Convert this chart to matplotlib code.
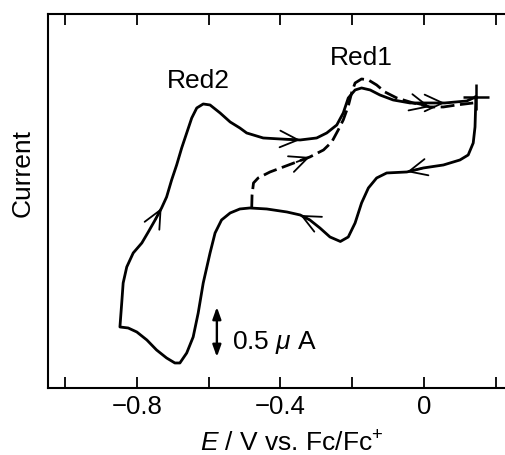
import matplotlib
matplotlib.use('Agg')
import matplotlib.pyplot as plt

plt.rcParams['font.family'] = ['Liberation Sans', 'DejaVu Sans']
plt.rcParams['mathtext.fontset'] = 'custom'
plt.rcParams['mathtext.rm'] = 'Liberation Sans'
plt.rcParams['mathtext.it'] = 'Liberation Sans:italic'

# full scan (solid), potential in V vs Fc/Fc+, current in uA (arbitrary offset)
solid_E = [0.144, 0.144, 0.142, 0.137, 0.123, 0.100, 0.054, -0.002, -0.048, -0.104,
           -0.132, -0.155, -0.174, -0.192, -0.211, -0.233, -0.262, -0.290, -0.318, -0.345,
           -0.382, -0.438, -0.485, -0.513, -0.540, -0.564, -0.582, -0.596, -0.615, -0.629,
           -0.643, -0.661, -0.680, -0.694, -0.717, -0.745, -0.772, -0.800, -0.824, -0.847,
           -0.842, -0.838, -0.828, -0.810, -0.786, -0.768, -0.749, -0.731, -0.717, -0.703,
           -0.689, -0.675, -0.661, -0.647, -0.633, -0.615, -0.596, -0.568, -0.540, -0.513,
           -0.494, -0.448, -0.401, -0.345, -0.299, -0.271, -0.243, -0.225, -0.211, -0.192,
           -0.174, -0.150, -0.123, -0.086, -0.039, 0.017, 0.058, 0.119, 0.144]
solid_I = [2.03, 1.97, 1.73, 1.57, 1.45, 1.40, 1.35, 1.32, 1.28, 1.27,
           1.22, 1.12, 0.97, 0.77, 0.63, 0.585, 0.63, 0.72, 0.80, 0.85,
           0.88, 0.91, 0.92, 0.91, 0.87, 0.80, 0.67, 0.47, 0.17, -0.13,
           -0.37, -0.53, -0.63, -0.63, -0.58, -0.50, -0.40, -0.32, -0.28, -0.27,
           -0.03, 0.17, 0.33, 0.47, 0.57, 0.68, 0.80, 0.92, 1.03, 1.20,
           1.35, 1.52, 1.67, 1.82, 1.92, 1.96, 1.95, 1.87, 1.78, 1.72,
           1.67, 1.62, 1.61, 1.60, 1.62, 1.67, 1.75, 1.87, 2.02, 2.10,
           2.12, 2.10, 2.05, 2.00, 1.97, 1.97, 1.97, 1.99, 2.03]

# scan reversed before Red2 (dashed)
dashed_E = [-0.480, -0.479, -0.475, -0.462, -0.429, -0.392, -0.355, -0.318, -0.280, -0.257,
            -0.239, -0.225, -0.211, -0.201, -0.192, -0.174, -0.155, -0.132, -0.109, -0.076,
            -0.030, 0.017, 0.054, 0.091, 0.137]
dashed_I = [0.915, 1.05, 1.17, 1.22, 1.28, 1.33, 1.38, 1.43, 1.50, 1.58,
            1.70, 1.80, 1.94, 2.08, 2.17, 2.21, 2.20, 2.15, 2.08, 2.02,
            1.97, 1.93, 1.93, 1.95, 1.97]

solid_arrows = [8, 19, 47, 63, 76]
dashed_arrows = [7, 21]

scale_E = -0.577
scale_low = -0.57
scale_len = 0.5

fig = plt.figure(figsize=(5.05, 4.55), dpi=100)
ax = fig.add_axes([0.096, 0.1473, 0.9143, 0.822])

ax.plot(solid_E, solid_I, color='black', lw=2.0, solid_joinstyle='round')
ax.plot(dashed_E, dashed_I, color='black', lw=2.0, linestyle=(0, (5, 2)))
ax.plot(solid_E[0], solid_I[0], marker='+', color='black', ms=19, mew=1.8)


def chevron(E, I, i):
    ax.annotate('', xy=(E[i], I[i]), xytext=(E[i - 1], I[i - 1]),
                arrowprops=dict(arrowstyle='->,head_length=1.3,head_width=0.6',
                                color='black', lw=1.3, shrinkA=0, shrinkB=0,
                                mutation_scale=10))


for i in solid_arrows:
    chevron(solid_E, solid_I, i)
for i in dashed_arrows:
    chevron(dashed_E, dashed_I, i)

# scale bar
ax.annotate('', xy=(scale_E, scale_low), xytext=(scale_E, scale_low + scale_len),
            arrowprops=dict(arrowstyle='<|-|>,head_length=0.7,head_width=0.25',
                            color='black', lw=1.7, shrinkA=0, shrinkB=0,
                            mutation_scale=10))
ax.text(-0.535, -0.43, '0.5 $\\mu$ A', fontsize=19, va='center', ha='left')

ax.text(-0.628, 2.19, 'Red2', fontsize=19, ha='center', va='center')
ax.text(-0.174, 2.42, 'Red1', fontsize=19, ha='center', va='center')

ax.set_xlim(-1.046, 0.24)
ax.set_ylim(-0.88, 2.86)
ax.set_xticks([-0.8, -0.4, 0])
ax.set_xticklabels(['\u22120.8', '\u22120.4', '0'])
ax.set_xticks([-1.0, -0.6, -0.2, 0.2], minor=True)
ax.set_yticks([])
ax.tick_params(axis='x', which='both', direction='in', top=True, length=8, width=1.3,
               labelsize=18.5, pad=5)
for s in ax.spines.values():
    s.set_linewidth(1.5)

ax.set_xlabel('$E$ / V vs. Fc/Fc$^{+}$', fontsize=19)
ax.xaxis.set_label_coords(0.527, -0.115)
ax.set_ylabel('Current', fontsize=19)
ax.yaxis.label.set_verticalalignment('center')
ax.yaxis.set_label_coords(-0.055, 0.575)

fig.savefig('out.png', dpi=100)
